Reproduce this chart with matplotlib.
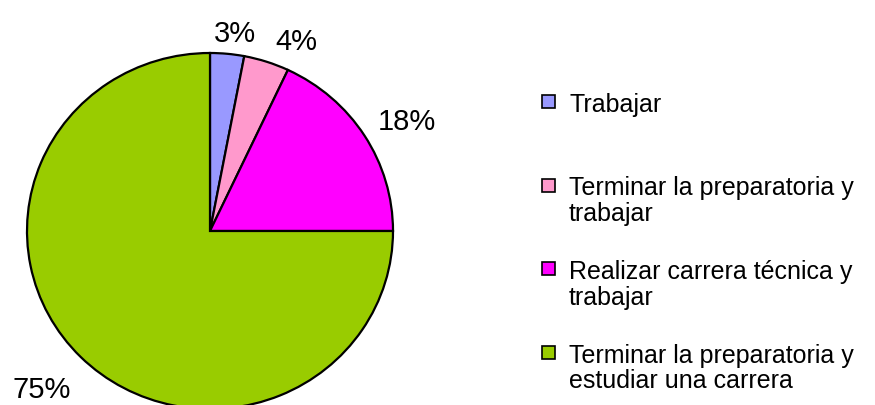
import matplotlib
matplotlib.use("Agg")
import matplotlib.pyplot as plt
from matplotlib.patches import Rectangle
import numpy as np

# data
categories = [
    "Trabajar",
    "Terminar la preparatoria y\ntrabajar",
    "Realizar carrera técnica y\ntrabajar",
    "Terminar la preparatoria y\nestudiar una carrera",
]
values = [3, 4, 18, 75]
colors = ["#9999FF", "#FF99CC", "#FF00FF", "#99CC00"]

W, H = 875, 406
plt.rcParams['font.family'] = ['Liberation Sans', 'DejaVu Sans']
fig = plt.figure(figsize=(W / 100, H / 100), dpi=100)


def fx(px):
    return px / W


def fy(py):
    return 1 - py / H


# pie area in pixels: left 27, right 393, top 54, bottom 410
ax = fig.add_axes([fx(27), fy(410), fx(393) - fx(27), fy(54) - fy(410)])
wedges, _ = ax.pie(values, colors=colors, startangle=90, counterclock=False,
                   wedgeprops=dict(edgecolor='black', linewidth=1.6))
ax.set_aspect('auto')
ax.set_xlim(-1, 1)
ax.set_ylim(-1, 1)
for w in wedges:
    w.set_clip_on(False)

# percent labels, offset (px) from the wedge's outer edge midpoint
label_offsets = [(8, 21), (30, 21), (42, 15), (-39, -32)]
for w, v, off in zip(wedges, values, label_offsets):
    ang = np.deg2rad((w.theta1 + w.theta2) / 2)
    x, y = w.r * np.cos(ang), w.r * np.sin(ang)
    ax.annotate(f"{v}%", (x, y), xytext=off, textcoords='offset pixels',
                ha='center', va='center', fontsize=21, annotation_clip=False)

# legend drawn by hand so entries are evenly spaced like the original
pitch = 83.5
for i, (lab, c) in enumerate(zip(categories, colors)):
    cy = 102 + i * pitch
    fig.add_artist(Rectangle((fx(542), fy(cy + 7)), 13 / W, 13 / H,
                             facecolor=c, edgecolor='black', linewidth=1.2))
    fig.text(fx(569), fy(cy - 9), lab, fontsize=18, va='top', ha='left',
             linespacing=1.1)

fig.savefig('out.png', dpi=100)
